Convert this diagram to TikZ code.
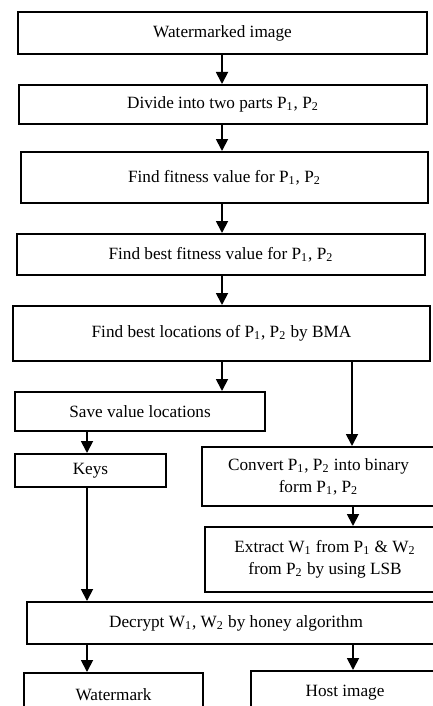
\documentclass[tikz,border=0pt]{standalone}
\usepackage{fontspec}
\setmainfont{Liberation Serif}
\usepackage{tikz}
\usetikzlibrary{calc}
\usetikzlibrary{arrows.meta}
\tikzset{
   stepbox/.style={
      draw=black, line width=1pt, align=center, inner sep=1pt,
      font=\fontsize{8.6}{11}\selectfont},
   flow/.style={draw=black, line width=0.9pt,
      -{Triangle[width=6pt,length=6pt]}},
   }
\newcommand{\Pn}[1]{P\textsubscript{#1}}
\newcommand{\Wn}[1]{W\textsubscript{#1}}

\begin{document}
\begin{tikzpicture}[x=0.5pt,y=-0.5pt]
            \clip (0,0) rectangle (433,706);
            \coordinate (colA) at (87,0);
            \coordinate (colB) at (222,0);
            \coordinate (colC) at (352,0);
            \node[stepbox, minimum width=204.5pt, minimum height=21pt] (wimg) at (222.5,33) {Watermarked image};
            \node[stepbox, minimum width=204pt, minimum height=19.5pt] (divide) at (223,104.5) {Divide into two parts \Pn{1}, \Pn{2}};
            \node[stepbox, minimum width=203.5pt, minimum height=25.5pt] (fitness) at (224.5,177.5) {Find fitness value for \Pn{1}, \Pn{2}};
            \node[stepbox, minimum width=204pt, minimum height=20.5pt] (bestfit) at (221,254.5) {Find best fitness value for \Pn{1}, \Pn{2}};
            \node[stepbox, minimum width=208.5pt, minimum height=27.5pt] (bestloc) at (221.5,333.5) {Find best locations of \Pn{1}, \Pn{2} by BMA};
            \node[stepbox, minimum width=125pt, minimum height=19.5pt] (save) at (140,411.5) {Save value locations};
            \node[stepbox, minimum width=75.5pt, minimum height=16.5pt] (keys) at (90.5,470.5) {Keys};
            \node[stepbox, minimum width=116.5pt, minimum height=29.5pt] (convert) at (318.5,476.5) {Convert \Pn{1}, \Pn{2} into binary\\form \Pn{1}, \Pn{2}};
            \node[stepbox, minimum width=120pt, minimum height=32.5pt] (extract) at (325,559.5) {Extract \Wn{1} from \Pn{1} \& \Wn{2}\\from \Pn{2} by using LSB};
            \node[stepbox, minimum width=209pt, minimum height=21pt] (decrypt) at (236,623) {Decrypt \Wn{1}, \Wn{2} by honey algorithm};
            \node[stepbox, minimum width=89.5pt, minimum height=22pt] (wmark) at (113.5,695) {Watermark};
            \node[stepbox, minimum width=94pt, minimum height=22pt] (host) at (345,693) {Host image};
            \draw[flow] (wimg.south -| colB) -- (divide.north -| colB);
            \draw[flow] (divide.south -| colB) -- (fitness.north -| colB);
            \draw[flow] (fitness.south -| colB) -- (bestfit.north -| colB);
            \draw[flow] (bestfit.south -| colB) -- (bestloc.north -| colB);
            \draw[flow] (bestloc.south -| colB) -- (save.north -| colB);
            \draw[flow] (bestloc.south -| colC) -- (convert.north -| colC);
            \draw[flow] (save.south -| colA) -- (keys.north -| colA);
            \draw[flow] (keys.south -| colA) -- (decrypt.north -| colA);
            \draw[flow] ([xshift=0.5pt]convert.south -| colC) -- ([xshift=0.5pt]extract.north -| colC);
            \draw[flow] (decrypt.south -| colA) -- (wmark.north -| colA);
            \draw[flow] ([xshift=0.5pt]decrypt.south -| colC) -- ([xshift=0.5pt]host.north -| colC);
        \end{tikzpicture}
\end{document}
